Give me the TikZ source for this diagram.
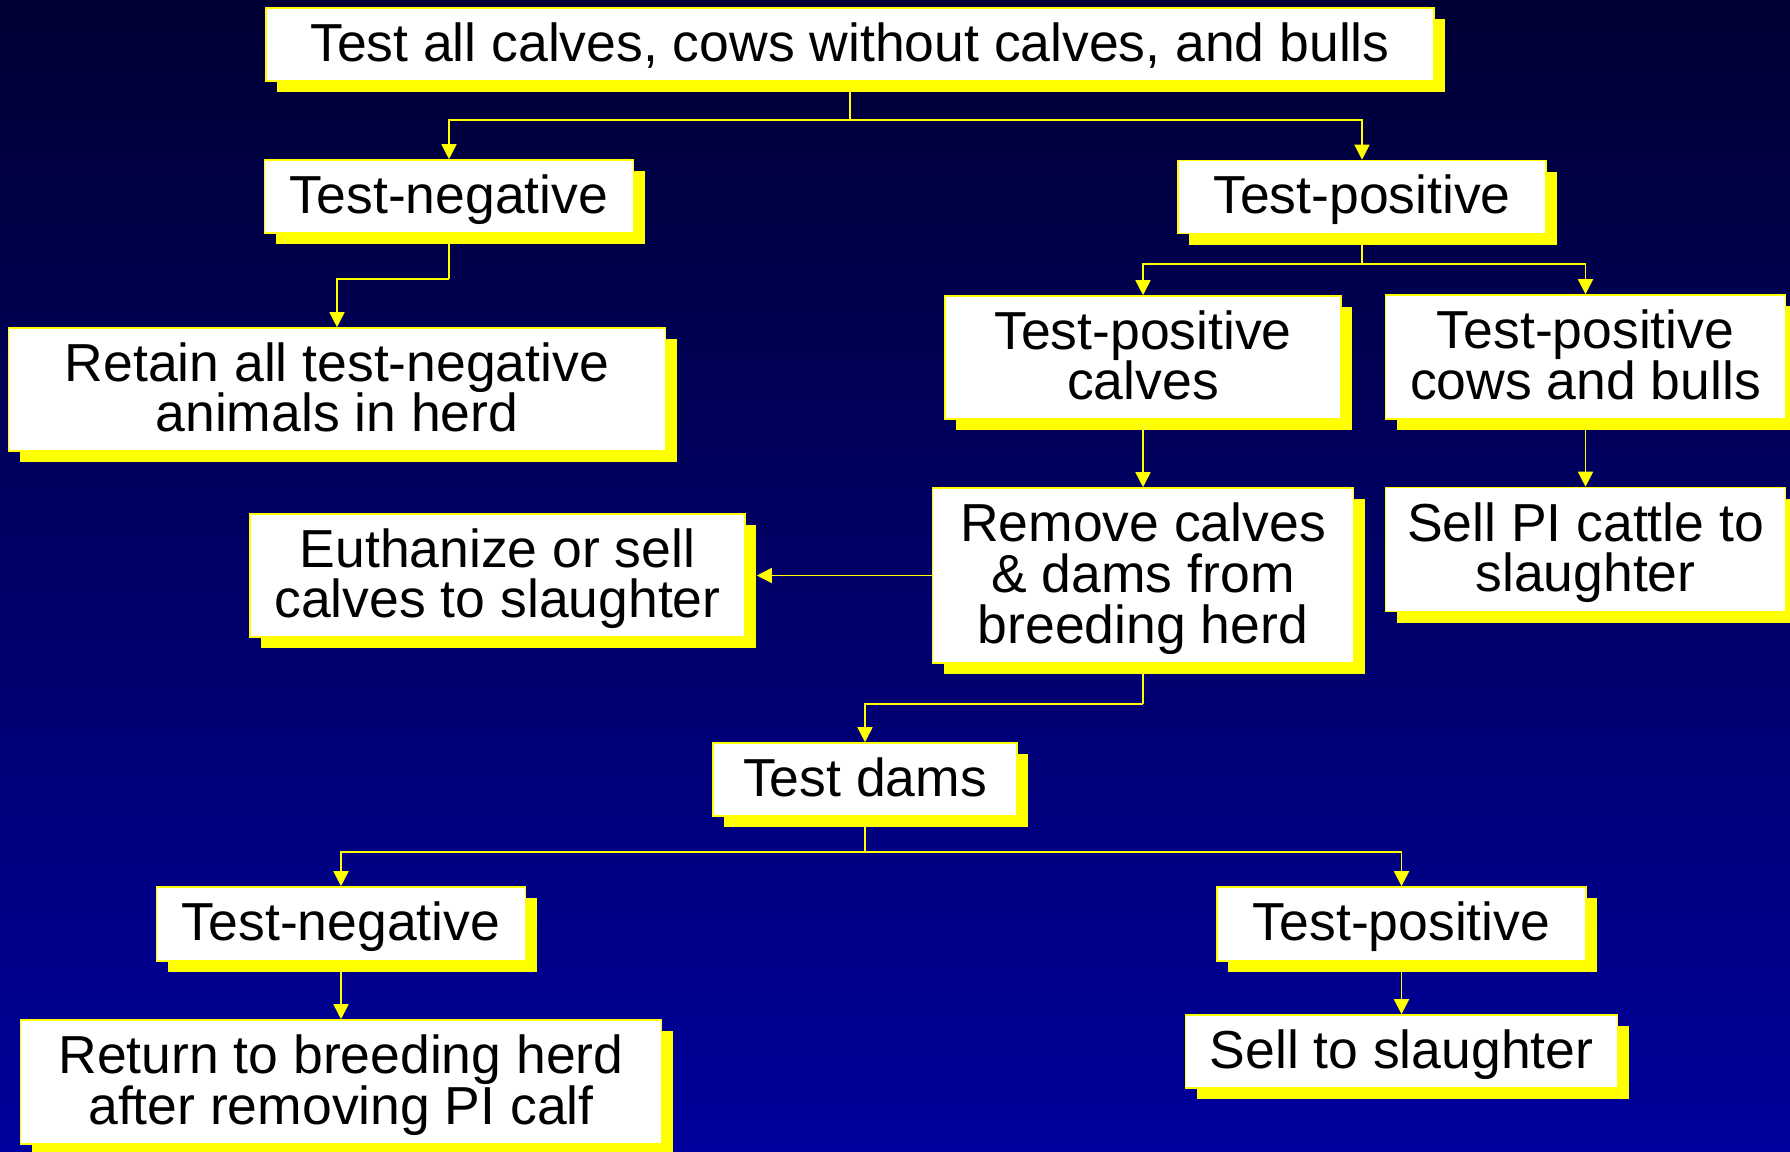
\documentclass[tikz,border=0pt]{standalone}
\usepackage{fontspec}
\setmainfont{Liberation Sans}
\usetikzlibrary{arrows.meta,shadows}
\definecolor{bgtop}{HTML}{000033}
\definecolor{bgbot}{HTML}{00009C}
\definecolor{ylw}{HTML}{FFFF00}
\newcommand\Ts{\rule{0pt}{45pt}}
\newcommand\Bs{\rule[-11.3pt]{0pt}{11.3pt}}
\tikzset{
  box/.style={draw=ylw, fill=white, line width=1.6pt, inner sep=0pt, align=center,
    text=black, font=\fontsize{53.5}{50.7}\selectfont,
    general shadow={fill=ylw, draw=none, shadow xshift=11pt, shadow yshift=-11pt}},
  conn/.style={draw=ylw, line width=1.6pt, -{Triangle[width=15pt,length=15pt]}},
  plain/.style={draw=ylw, line width=1.6pt}
}
\begin{document}
\begin{tikzpicture}[x=1pt,y=-1pt]
\shade[top color=bgtop, bottom color=bgbot] (0,0) rectangle (1790,1151);
\useasboundingbox (0,0) rectangle (1790,1151);

\node[box, minimum width=1168pt, minimum height=73pt] (top) at (850,44.5) {\Ts Test all calves, cows without calves, and bulls\Bs};
\node[box, minimum width=369pt, minimum height=73pt] (tneg) at (449,196.5) {\Ts Test-negative\Bs};
\node[box, minimum width=368pt, minimum height=73pt] (tpos) at (1362,197) {\Ts Test-positive\Bs};
\node[box, minimum width=657pt, minimum height=123pt] (retain) at (337,389.5) {\Ts Retain all test-negative\\animals in herd\Bs};
\node[box, minimum width=396pt, minimum height=123pt] (calves) at (1143,357.5) {\Ts Test-positive\\calves\Bs};
\node[box, minimum width=400pt, minimum height=124pt] (cows) at (1585.5,357) {\Ts Test-positive\\cows and bulls\Bs};
\node[box, minimum width=495pt, minimum height=123pt] (euth) at (497.5,575.5) {\Ts Euthanize or sell\\calves to slaughter\Bs};
\node[box, minimum width=421pt, minimum height=175pt] (remove) at (1143,575.5) {\Ts Remove calves\\\& dams from\\breeding herd\Bs};
\node[box, minimum width=400pt, minimum height=124pt] (sellpi) at (1585.5,549.5) {\Ts Sell PI cattle to\\slaughter\Bs};
\node[box, minimum width=304pt, minimum height=73pt] (dams) at (865,779.5) {\Ts Test dams\Bs};
\node[box, minimum width=369pt, minimum height=74pt] (bneg) at (341,924) {\Ts Test-negative\Bs};
\node[box, minimum width=369pt, minimum height=74pt] (bpos) at (1401.5,924) {\Ts Test-positive\Bs};
\node[box, minimum width=641pt, minimum height=124pt] (ret) at (341,1082) {\Ts Return to breeding herd\\after removing PI calf\Bs};
\node[box, minimum width=432pt, minimum height=73pt] (sell) at (1401.5,1051.5) {\Ts Sell to slaughter\Bs};

\coordinate (j1) at (850,120);
\coordinate (j2) at (449,279);
\coordinate (j3) at (1362,264);
\coordinate (j4) at (1143,704);
\coordinate (j5) at (865,852);

\draw[plain] (top.south) -- (j1);
\draw[conn] (j1) -| (tneg.north);
\draw[conn] (j1) -| (tpos.north);
\draw[plain] (tneg.south) -- (j2);
\draw[conn] (j2) -| (retain.north);
\draw[plain] (tpos.south) -- (j3);
\draw[conn] (j3) -| (calves.north);
\draw[conn] (j3) -| (cows.north);
\draw[conn] (calves.south) -- (remove.north);
\draw[conn] (cows.south) -- (sellpi.north);
\draw[conn] (remove.west) -- ([xshift=11pt]euth.east);
\draw[plain] (remove.south) -- (j4);
\draw[conn] (j4) -| (dams.north);
\draw[plain] (dams.south) -- (j5);
\draw[conn] (j5) -| (bneg.north);
\draw[conn] (j5) -| (bpos.north);
\draw[conn] (bneg.south) -- (ret.north);
\draw[conn] (bpos.south) -- (sell.north);
\end{tikzpicture}
\end{document}
